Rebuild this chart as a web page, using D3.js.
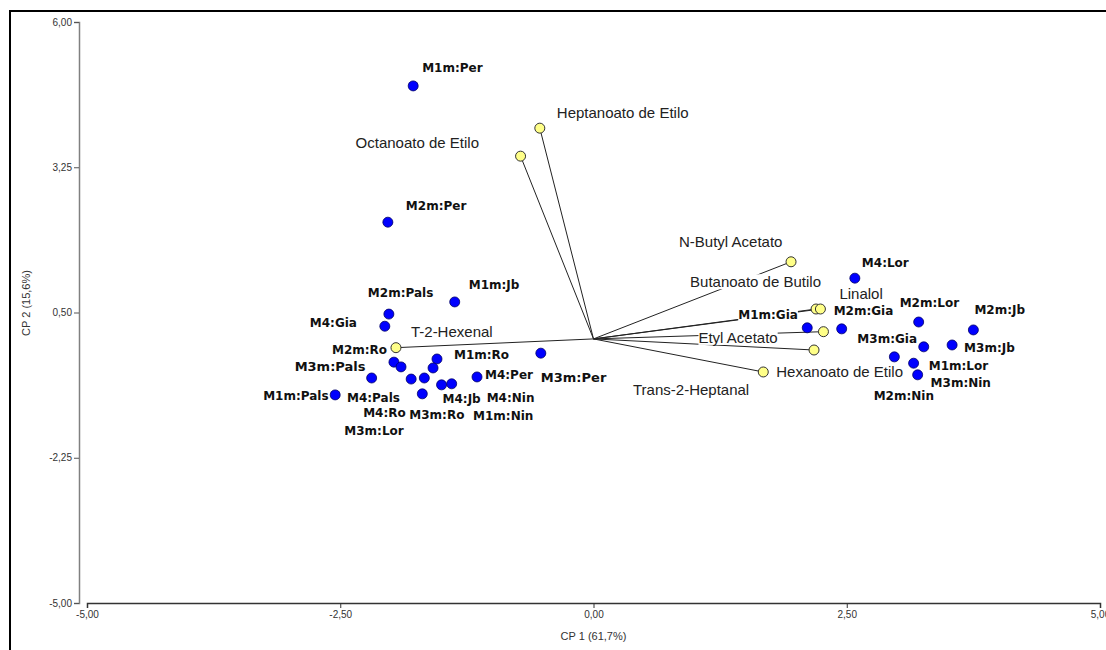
<!DOCTYPE html>
<html>
<head>
<meta charset="utf-8">
<script src="https://cdn.jsdelivr.net/npm/d3@7"></script>
<style>
  body { margin: 0; background: #fff; }
  svg { display: block; }
</style>
</head>
<body>
<div id="chart"></div>
<script>
// sample scores (CP1, CP2)
const sampleNames = [
  'M1m:Per', 'M2m:Per', 'M1m:Jb', 'M2m:Pals', 'M4:Gia', 'M2m:Ro', 'M4:Pals', 'M1m:Ro',
  'M1m:Nin', 'M3m:Pals', 'M4:Ro', 'M3m:Lor', 'M4:Per', 'M4:Jb', 'M4:Nin', 'M3m:Ro',
  'M1m:Pals', 'M3m:Per',
  'M4:Lor', 'M1m:Gia', 'M2m:Gia', 'M2m:Lor', 'M2m:Jb', 'M3m:Gia', 'M3m:Jb', 'M1m:Lor',
  'M3m:Nin', 'M2m:Nin'
];
const sampleCP1 = [
  -1.78, -2.03, -1.37, -2.02, -2.06, -1.97, -1.90, -1.545,
  -1.584, -2.19, -1.80, -1.67, -1.15, -1.50, -1.40, -1.69,
  -2.55, -0.52,
  2.58, 2.11, 2.45, 3.21, 3.75, 2.97, 3.54, 3.26,
  3.16, 3.20
];
const sampleCP2 = [
  4.79, 2.21, 0.70, 0.47, 0.24, -0.44, -0.53, -0.38,
  -0.55, -0.74, -0.76, -0.74, -0.72, -0.87, -0.85, -1.04,
  -1.06, -0.27,
  1.15, 0.21, 0.19, 0.32, 0.17, -0.34, -0.115, -0.15,
  -0.46, -0.68
];
const bigLabels = ['M3m:Pals', 'M3m:Per'];

// variable loadings
const varNames = [
  'Heptanoato de Etilo', 'Octanoato de Etilo', 'N-Butyl Acetato', 'Butanoato de Butilo',
  'Linalol', 'Etyl Acetato', 'Trans-2-Heptanal', 'Hexanoato de Etilo', 'T-2-Hexenal'
];
const varCP1 = [-0.53, -0.72, 1.95, 2.197, 2.24, 2.27, 2.177, 1.676, -1.95];
const varCP2 = [3.99, 3.46, 1.46, 0.566, 0.566, 0.137, -0.21, -0.626, -0.166];

const tickValues = [-5, -2.5, 0, 2.5, 5];
const xTitle = 'CP 1 (61,7%)';
const yTitle = 'CP 2 (15,6%)';

// label placement: text start offset from the point [dx, dy to text middle], px
const labelOffset = {
  'M1m:Per': [9, -18], 'M2m:Per': [18, -16], 'M1m:Jb': [14, -17], 'M2m:Pals': [-21, -21],
  'M4:Gia': [-75, -3], 'M2m:Ro': [-62, -12], 'M4:Pals': [-54, 31], 'M1m:Ro': [17, -4],
  'M1m:Nin': [40, 48], 'M3m:Pals': [-77, -12], 'M4:Ro': [-48, 34], 'M3m:Lor': [-80, 53],
  'M4:Per': [8, -2], 'M4:Jb': [1, 14], 'M4:Nin': [35, 14], 'M3m:Ro': [-13, 21],
  'M1m:Pals': [-72, 1], 'M3m:Per': [0, 24],
  'M4:Lor': [7, -15], 'M1m:Gia': [-69, -13], 'M2m:Gia': [-8, -18], 'M2m:Lor': [-19, -19],
  'M2m:Jb': [1, -20], 'M3m:Gia': [-37, -18], 'M3m:Jb': [12, 3], 'M1m:Lor': [5, 19],
  'M3m:Nin': [17, 20], 'M2m:Nin': [-44, 21],
  'Heptanoato de Etilo': [17, -15], 'Octanoato de Etilo': [-165, -13], 'N-Butyl Acetato': [-112, -20],
  'Butanoato de Butilo': [-126, -27], 'Linalol': [19, -15], 'Etyl Acetato': [-125, 6],
  'Trans-2-Heptanal': [-181, 40], 'Hexanoato de Etilo': [13, 0], 'T-2-Hexenal': [15, -16]
};

const width = 1106, height = 650;
const svg = d3.select('#chart').append('svg')
  .attr('width', width)
  .attr('height', height);

// outer frame
svg.append('rect')
  .attr('x', 10).attr('y', 11)
  .attr('width', 1110).attr('height', 700)
  .attr('fill', 'none')
  .attr('stroke', '#000')
  .attr('stroke-width', 2);

const x = d3.scaleLinear().domain([-5, 5]).range([87, 1100]);
const y = d3.scaleLinear().domain([-5, 6]).range([603, 22]);

const fmt = v => d3.format('.2f')(v).replace('.', ',').replace('−', '-');

// y axis (offset left of the plot)
const yAxis = svg.append('g')
  .attr('transform', 'translate(79,0)')
  .call(d3.axisLeft(y).tickValues([-5, -2.25, 0.5, 3.25, 6]).tickSize(5).tickPadding(2).tickFormat(fmt));
yAxis.select('.domain').attr('stroke', '#808080').attr('stroke-width', 1.5);
yAxis.selectAll('.tick line').attr('stroke', '#555');
yAxis.selectAll('text').attr('font-family', 'Arial, Liberation Sans, sans-serif').attr('font-size', 10).attr('fill', '#333');

// x axis
const xAxis = svg.append('g')
  .attr('transform', 'translate(0,603)')
  .call(d3.axisBottom(x).tickValues(tickValues).tickSize(5).tickPadding(3).tickFormat(fmt));
xAxis.select('.domain').attr('stroke', '#333').attr('stroke-width', 1.5);
xAxis.selectAll('.tick line').attr('stroke', '#333');
xAxis.selectAll('text').attr('font-family', 'Arial, Liberation Sans, sans-serif').attr('font-size', 10).attr('fill', '#333');

svg.append('text')
  .attr('x', x(0)).attr('y', 640)
  .attr('text-anchor', 'middle')
  .attr('font-family', 'Arial, Liberation Sans, sans-serif')
  .attr('font-size', 11).attr('fill', '#333')
  .text(xTitle);

svg.append('text')
  .attr('transform', 'translate(30,303) rotate(-90)')
  .attr('text-anchor', 'middle')
  .attr('font-family', 'Arial, Liberation Sans, sans-serif')
  .attr('font-size', 11).attr('fill', '#333')
  .text(yTitle);

const vars = varNames.map((n, i) => ({ name: n, cp1: varCP1[i], cp2: varCP2[i] }));
const samples = sampleNames.map((n, i) => ({ name: n, cp1: sampleCP1[i], cp2: sampleCP2[i] }));

// loading vectors from origin
svg.append('g').selectAll('line')
  .data(vars)
  .enter().append('line')
  .attr('x1', x(0)).attr('y1', y(0))
  .attr('x2', d => x(d.cp1)).attr('y2', d => y(d.cp2))
  .attr('stroke', '#222')
  .attr('stroke-width', 1);

// labels with white background boxes
function addLabels(data, styleFn) {
  const g = svg.append('g');
  data.forEach(d => {
    const off = labelOffset[d.name] || [8, -10];
    const lg = g.append('g');
    const bg = lg.append('rect').attr('fill', '#fff');
    const t = lg.append('text')
      .attr('x', x(d.cp1) + off[0])
      .attr('y', y(d.cp2) + off[1])
      .attr('dy', '0.35em')
      .text(d.name);
    styleFn(t, d);
    const bb = t.node().getBBox();
    bg.attr('x', bb.x).attr('y', bb.y + 1).attr('width', bb.width).attr('height', bb.height - 2);
  });
}

addLabels(vars, t => t
  .attr('font-family', 'Arial, Liberation Sans, sans-serif')
  .attr('font-size', 15)
  .attr('fill', '#222'));

addLabels(samples, (t, d) => t
  .attr('font-family', 'DejaVu Sans, sans-serif')
  .attr('font-weight', 'bold')
  .attr('font-size', bigLabels.includes(d.name) ? 13 : 12)
  .attr('fill', '#111'));

// points
svg.append('g').selectAll('circle')
  .data(vars)
  .enter().append('circle')
  .attr('cx', d => x(d.cp1)).attr('cy', d => y(d.cp2))
  .attr('r', 5)
  .attr('fill', '#ffff88')
  .attr('stroke', '#333')
  .attr('stroke-width', 1);

svg.append('g').selectAll('circle')
  .data(samples)
  .enter().append('circle')
  .attr('cx', d => x(d.cp1)).attr('cy', d => y(d.cp2))
  .attr('r', 5)
  .attr('fill', '#0000ff')
  .attr('stroke', '#000066')
  .attr('stroke-width', 0.8);
</script>
</body>
</html>
